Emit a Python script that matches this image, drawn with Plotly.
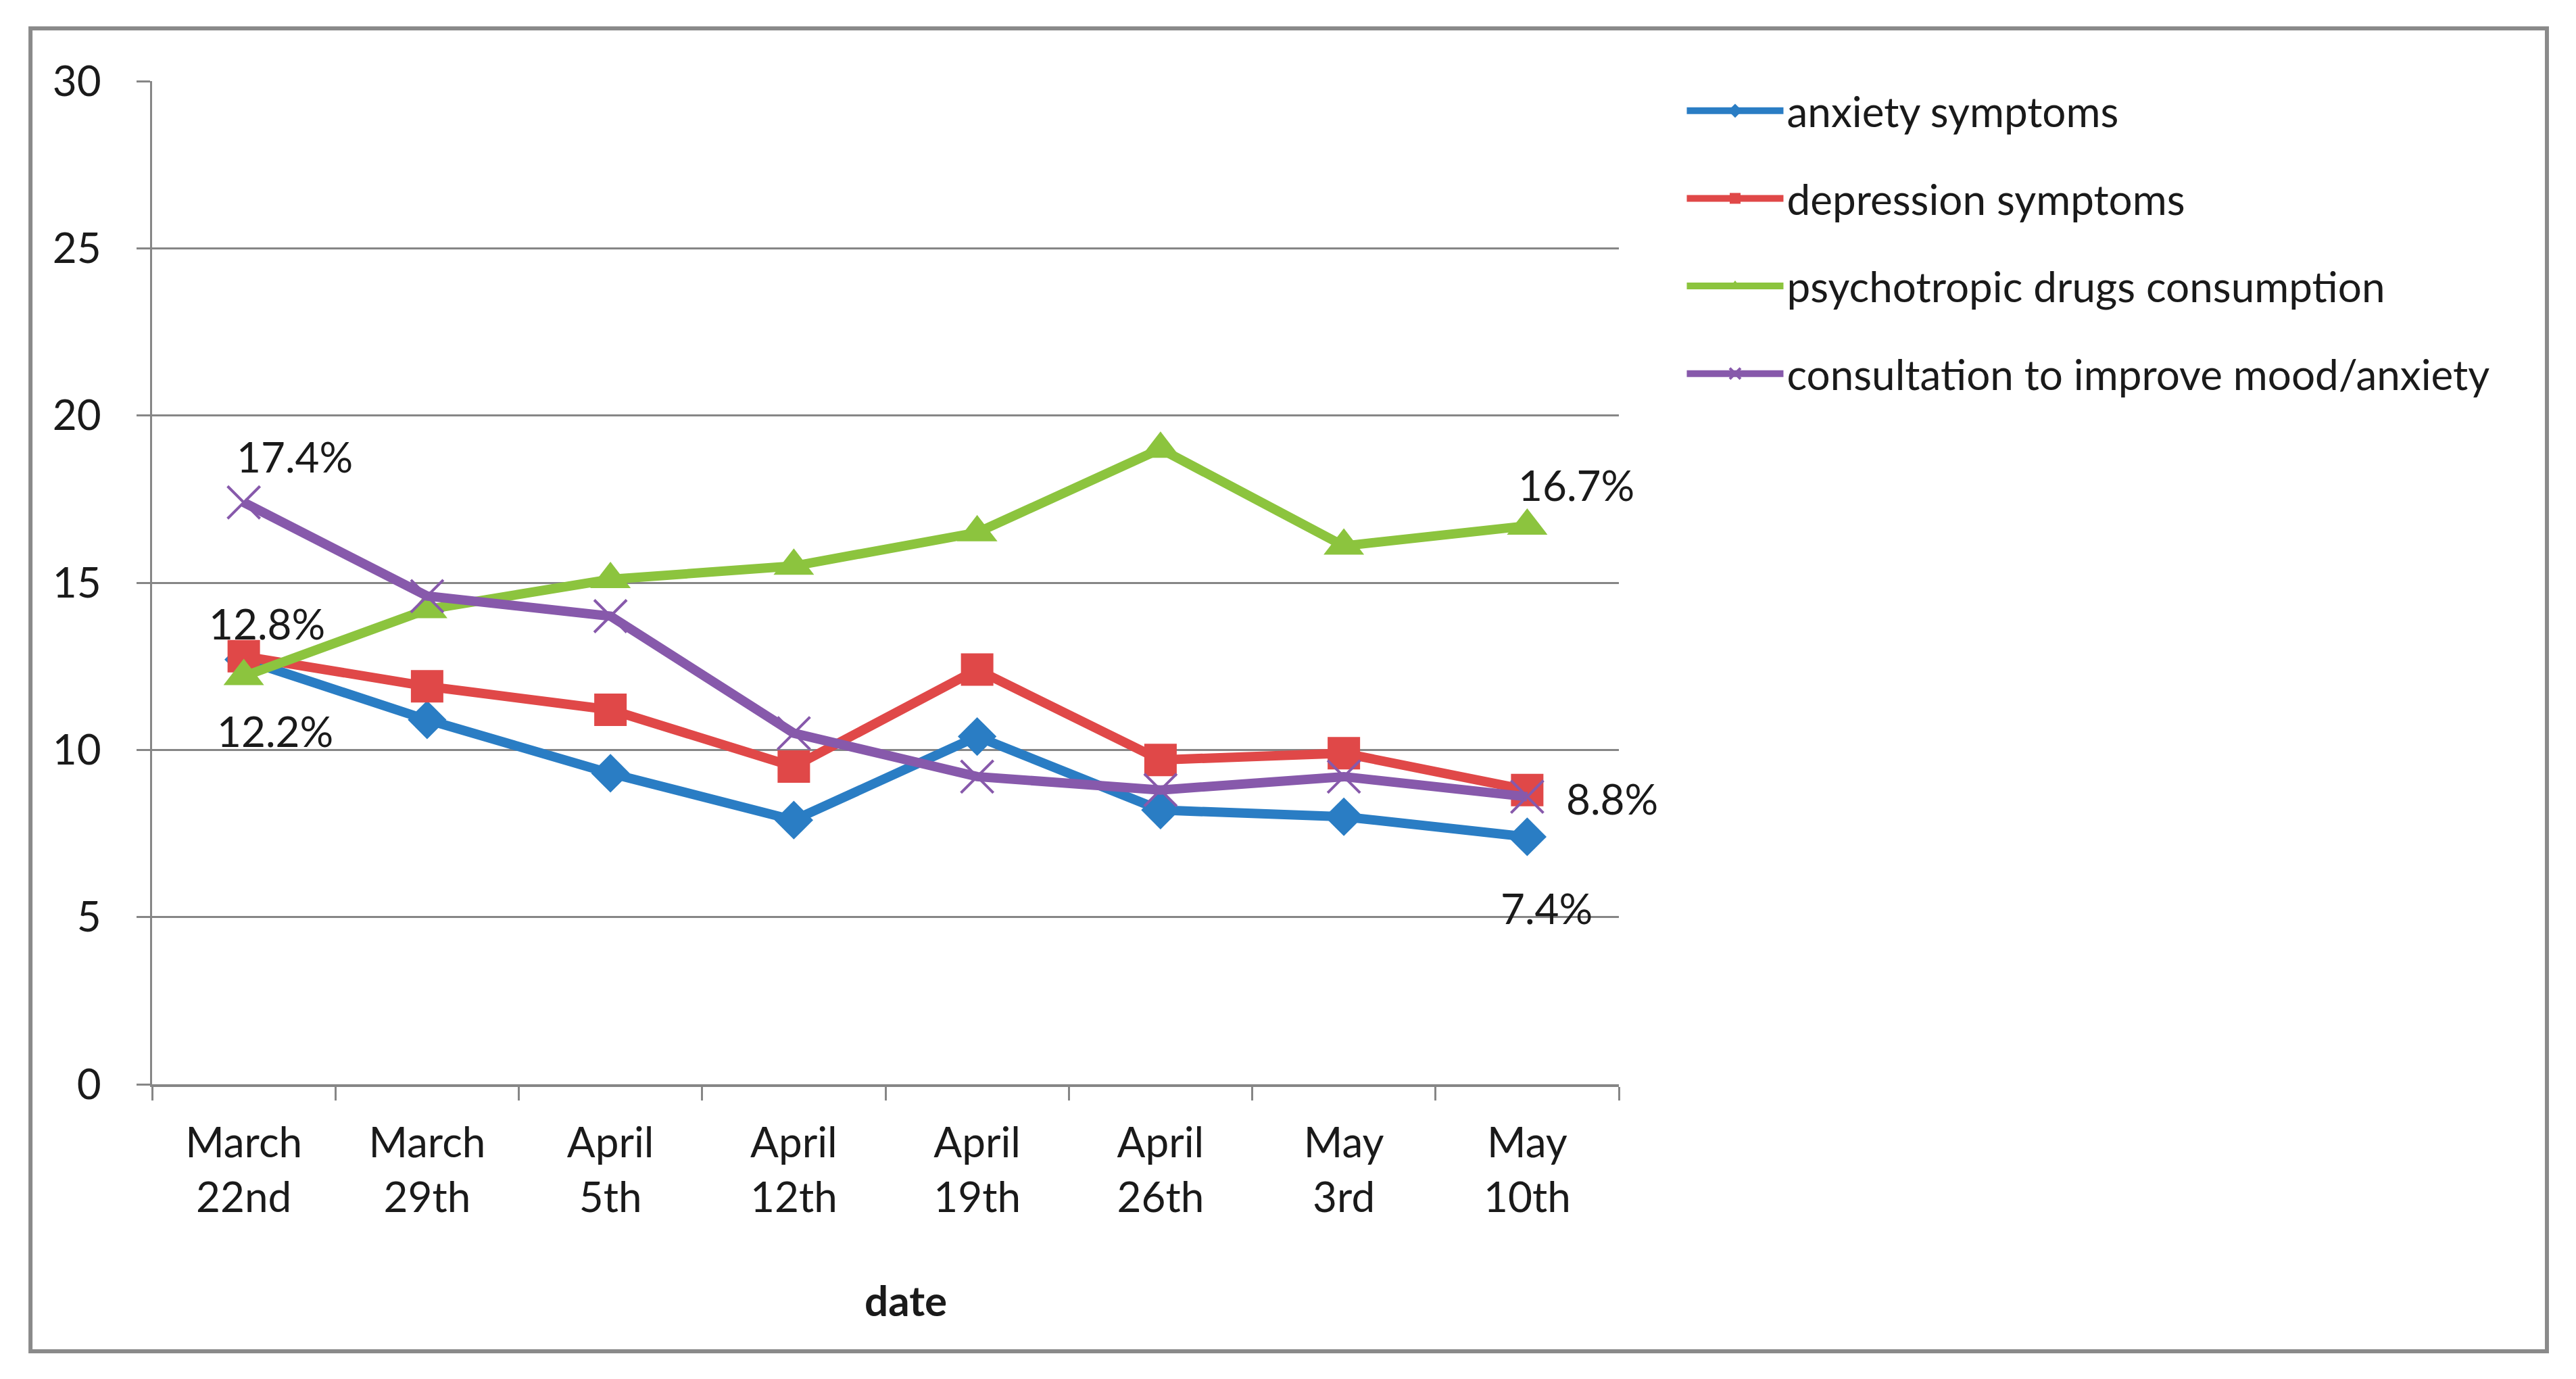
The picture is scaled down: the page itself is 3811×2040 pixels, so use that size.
import plotly.graph_objects as go

dates = ["March<br>22nd", "March<br>29th", "April<br>5th", "April<br>12th",
         "April<br>19th", "April<br>26th", "May<br>3rd", "May<br>10th"]
anxiety = [12.7, 10.9, 9.3, 7.9, 10.4, 8.2, 8.0, 7.4]
depression = [12.8, 11.9, 11.2, 9.5, 12.4, 9.7, 9.9, 8.8]
drugs = [12.2, 14.2, 15.1, 15.5, 16.5, 19.0, 16.1, 16.7]
consultation = [17.4, 14.6, 14.0, 10.5, 9.2, 8.8, 9.2, 8.6]
y_ticks = [0, 5, 10, 15, 20, 25, 30]

FONT = "Lato"
FS = 62
BLUE = "#2a7dc4"
RED = "#e04848"
GREEN = "#8cc43e"
PURPLE = "#8759ab"

fig = go.Figure()
series = [
    ("anxiety symptoms", anxiety, BLUE, "diamond", 44),
    ("depression symptoms", depression, RED, "square", 48),
    ("psychotropic drugs consumption", drugs, GREEN, "triangle-up", 52),
    ("consultation to improve mood/anxiety", consultation, PURPLE, "x-thin", 48),
]
for name, vals, col, sym, sz in series:
    mk = dict(symbol=sym, size=sz, color=col)
    if sym == "x-thin":
        mk["line"] = dict(color=col, width=4)
    fig.add_trace(go.Scatter(
        x=dates, y=vals, name=name, legendgroup=name, mode="lines+markers",
        line=dict(color=col, width=14), marker=mk,
    ))

# data labels (anchored to data points)
labels = [
    (dates[0], consultation[0], 75, 68),
    (dates[0], depression[0], 34, 49),
    (dates[0], drugs[0], 46, -80),
    (dates[7], drugs[7], 73, 61),
    (dates[7], depression[7], 126, -12),
    (dates[7], anxiety[7], 29, -105),
]
for xv, yv, dx, dy in labels:
    fig.add_annotation(x=xv, y=yv, text=f"{yv:.1f}%", showarrow=False,
                       xshift=dx, yshift=dy,
                       font=dict(family=FONT, size=FS, color="#1a1a1a"))

fig.add_annotation(x=0.514, y=-0.241, xref="paper", yref="paper", text="<b>date</b>",
                   showarrow=False, font=dict(family=FONT, size=FS, color="#1a1a1a"))

# outer chart border
fig.add_shape(type="rect", xref="paper", yref="paper",
              x0=-0.0829, x1=1.6327, y0=-0.2662, y1=1.0526,
              line=dict(color="#8a8a8a", width=6), fillcolor="rgba(0,0,0,0)")

fig.update_layout(
    width=3811, height=2040,
    margin=dict(l=217, r=1424, t=112, b=444),
    paper_bgcolor="white", plot_bgcolor="white",
    font=dict(family=FONT, size=FS, color="#1a1a1a"),
    showlegend=True,
    legend=dict(x=1.044, y=1.002, xanchor="left", yanchor="top",
                font=dict(family=FONT, size=FS, color="#1a1a1a"),
                tracegroupgap=46, itemsizing="trace", itemwidth=143,
                bgcolor="rgba(0,0,0,0)"),
)
fig.update_xaxes(
    type="category", range=[-0.5, 7.5], tickson="boundaries",
    ticks="outside", ticklen=20, tickwidth=3, tickcolor="#868686",
    showline=True, linecolor="#868686", linewidth=4, showgrid=False,
    tickfont=dict(family=FONT, size=FS), ticklabelstandoff=30,
)
fig.update_yaxes(
    range=[0, 30], tickvals=y_ticks, ticks="outside", ticklen=20, tickwidth=3,
    tickcolor="#868686", showline=True, linecolor="#868686", linewidth=3,
    showgrid=True, gridcolor="#868686", gridwidth=3, zeroline=False,
    tickfont=dict(family=FONT, size=FS), ticklabelstandoff=40,
)

fig.write_html("out.html")
